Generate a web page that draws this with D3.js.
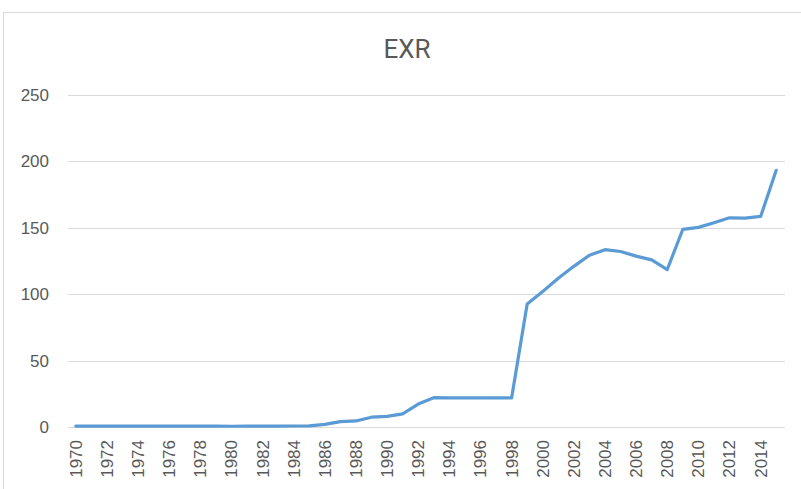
<!DOCTYPE html>
<meta charset="utf-8">
<style>
body { margin: 0; background: #fff; }
text { font-family: "Liberation Sans", Arial, sans-serif; fill: #595959; }
.grid line { stroke: #d9d9d9; stroke-width: 1; }
</style>
<body>
<script src="https://d3js.org/d3.v7.min.js"></script>
<script>

// chart data
var years = [1970, 1971, 1972, 1973, 1974, 1975, 1976, 1977, 1978, 1979,
             1980, 1981, 1982, 1983, 1984, 1985, 1986, 1987, 1988, 1989,
             1990, 1991, 1992, 1993, 1994, 1995, 1996, 1997, 1998, 1999,
             2000, 2001, 2002, 2003, 2004, 2005, 2006, 2007, 2008, 2009,
             2010, 2011, 2012, 2013, 2014, 2015];
var exr = [0.71, 0.71, 0.66, 0.66, 0.63, 0.62, 0.63, 0.65, 0.61, 0.60,
           0.55, 0.61, 0.67, 0.72, 0.77, 0.89, 2.02, 4.02, 4.54, 7.39,
           8.04, 9.91, 17.3, 22.05, 21.89, 21.89, 21.89, 21.89, 21.89, 92.69,
           102.1, 111.94, 120.97, 129.36, 133.5, 132.15, 128.65, 125.83, 118.57, 148.88,
           150.3, 153.86, 157.5, 157.31, 158.55, 193.28];
var yTicks = [0, 50, 100, 150, 200, 250];
var xLabels = years.filter(function(y) { return y % 2 === 0; });
var title = "EXR";

var W = 801, H = 489;
var plot = {left: 68, right: 784, top: 95, bottom: 427};

var svg = d3.select("body").append("svg")
    .attr("width", W)
    .attr("height", H);

// chart area border
svg.append("rect")
    .attr("x", 3.5).attr("y", 12.5)
    .attr("width", 830).attr("height", 520)
    .attr("fill", "#fff")
    .attr("stroke", "#d9d9d9");

var x = d3.scaleBand()
    .domain(years)
    .range([plot.left, plot.right]);
var y = d3.scaleLinear()
    .domain([0, 250])
    .range([plot.bottom, plot.top]);

// gridlines
svg.append("g")
    .attr("class", "grid")
    .selectAll("line")
    .data(yTicks)
  .enter().append("line")
    .attr("x1", plot.left).attr("x2", plot.right + 1)
    .attr("y1", function(d) { return Math.round(y(d)) + 0.5; })
    .attr("y2", function(d) { return Math.round(y(d)) + 0.5; });

// y axis labels
var yAxis = svg.append("g")
    .attr("transform", "translate(" + (plot.left - 19) + ",0)")
    .call(d3.axisLeft(y).tickValues(yTicks).tickSize(0).tickPadding(0));
yAxis.select(".domain").remove();
yAxis.selectAll("text")
    .style("font-size", "17px")
    .attr("fill", "#595959");

// x axis labels
var xAxis = svg.append("g")
    .attr("transform", "translate(0," + (plot.bottom + 13) + ")")
    .call(d3.axisBottom(x).tickValues(xLabels).tickSize(0));
xAxis.select(".domain").remove();
xAxis.selectAll("text")
    .style("font-size", "17px")
    .attr("fill", "#595959")
    .attr("transform", "rotate(-90)")
    .attr("x", 0)
    .attr("y", 0)
    .attr("dy", "0.35em")
    .style("text-anchor", "end");

// the line
var line = d3.line()
    .x(function(d, i) { return x(years[i]) + x.bandwidth() / 2; })
    .y(function(d) { return y(d); });

svg.append("path")
    .datum(exr)
    .attr("fill", "none")
    .attr("stroke", "#5b9bd5")
    .attr("stroke-width", 3.2)
    .attr("stroke-linejoin", "round")
    .attr("stroke-linecap", "round")
    .attr("d", line);

// title
svg.append("text")
    .attr("x", 407)
    .attr("y", 58)
    .attr("text-anchor", "middle")
    .style("font-family", "Roboto, 'Liberation Sans', sans-serif")
    .style("font-size", "26px")
    .text(title);

</script>
</body>
